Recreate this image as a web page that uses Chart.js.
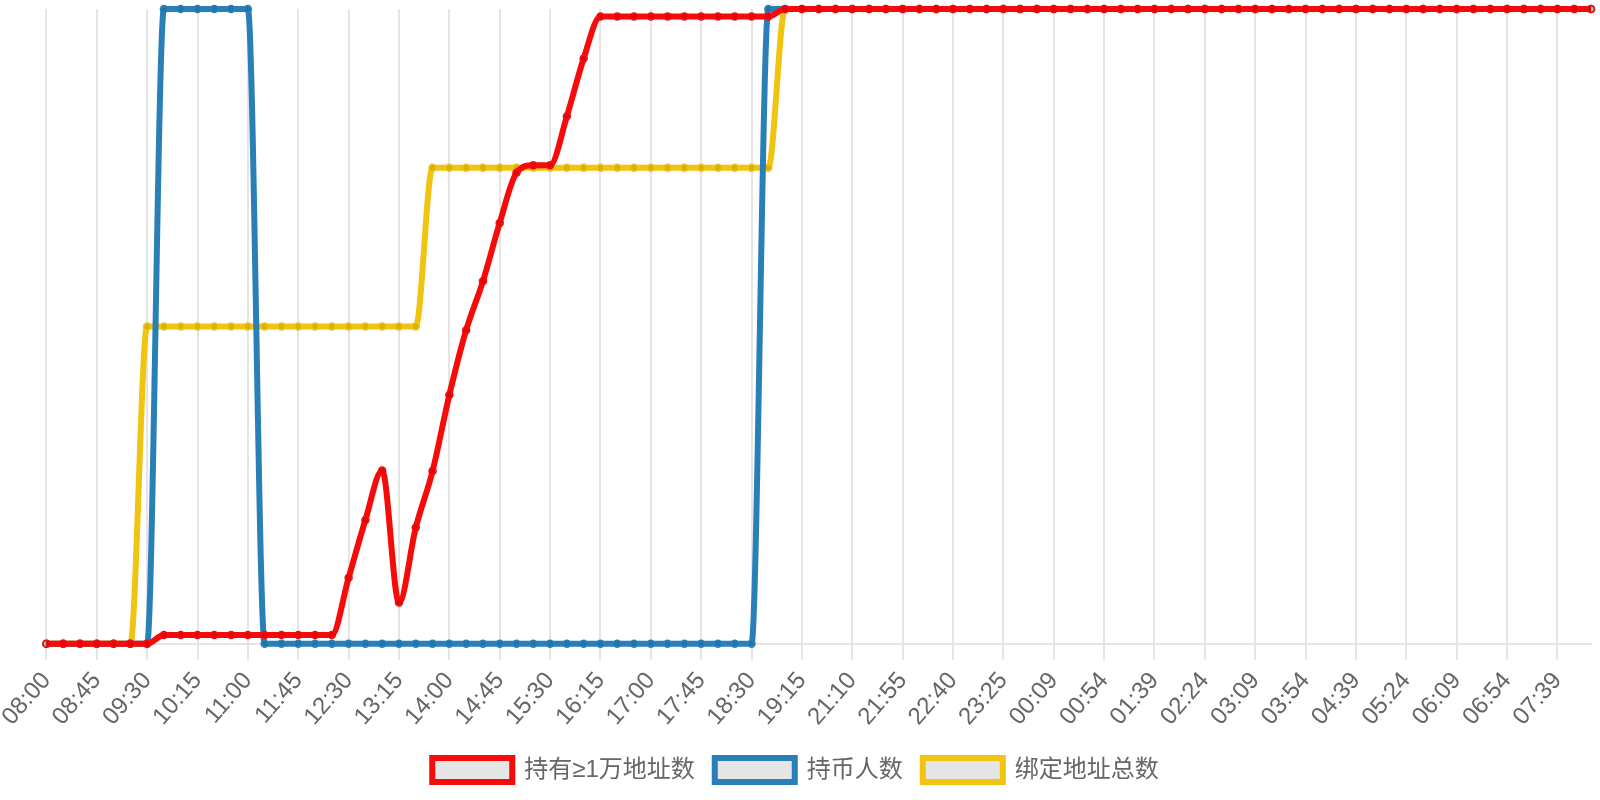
<!DOCTYPE html>
<html>
<head>
<meta charset="utf-8">
<title>地址统计</title>
<script src="https://cdn.jsdelivr.net/npm/chart.js@4.4.1/dist/chart.umd.min.js"></script>
<style>
  html, body { margin: 0; padding: 0; background: #fff; }
  #wrap { width: 1600px; height: 800px; }
</style>
</head>
<body>
<div id="wrap"><canvas id="grafico"></canvas></div>
<script>
// horas (cada 15 min, solo se muestra una de cada tres)
var horas = [
  "08:00","08:15","08:30","08:45","09:00","09:15","09:30","09:45","10:00","10:15",
  "10:30","10:45","11:00","11:15","11:30","11:45","12:00","12:15","12:30","12:45",
  "13:00","13:15","13:30","13:45","14:00","14:15","14:30","14:45","15:00","15:15",
  "15:30","15:45","16:00","16:15","16:30","16:45","17:00","17:15","17:30","17:45",
  "18:00","18:15","18:30","18:45","19:00","19:15","19:30","20:55","21:10","21:25",
  "21:40","21:55","22:10","22:25","22:40","22:55","23:10","23:25","23:40","23:54",
  "00:09","00:24","00:39","00:54","01:09","01:24","01:39","01:54","02:09","02:24",
  "02:39","02:54","03:09","03:24","03:39","03:54","04:09","04:24","04:39","04:54",
  "05:09","05:24","05:39","05:54","06:09","06:24","06:39","06:54","07:09","07:24",
  "07:39","07:54","08:09"
];

// valores en % del maximo de cada serie
var rojo = [
  0, 0, 0, 0, 0, 0, 0, 1.4, 1.4, 1.4,
  1.4, 1.4, 1.4, 1.4, 1.4, 1.4, 1.4, 1.4, 10.4, 19.5,
  27.3, 6.5, 18.3, 27.2, 39.2, 49.4, 57.1, 66.3, 74.2, 75.4,
  75.4, 83.1, 92.2, 98.8, 98.8, 98.8, 98.8, 98.8, 98.8, 98.8,
  98.8, 98.8, 98.8, 98.8, 100, 100, 100, 100, 100, 100,
  100, 100, 100, 100, 100, 100, 100, 100, 100, 100,
  100, 100, 100, 100, 100, 100, 100, 100, 100, 100,
  100, 100, 100, 100, 100, 100, 100, 100, 100, 100,
  100, 100, 100, 100, 100, 100, 100, 100, 100, 100,
  100, 100, 100
];

var azul = [
  0, 0, 0, 0, 0, 0, 0, 100, 100, 100,
  100, 100, 100, 0, 0, 0, 0, 0, 0, 0,
  0, 0, 0, 0, 0, 0, 0, 0, 0, 0,
  0, 0, 0, 0, 0, 0, 0, 0, 0, 0,
  0, 0, 0, 100, 100, 100, 100, 100, 100, 100,
  100, 100, 100, 100, 100, 100, 100, 100, 100, 100,
  100, 100, 100, 100, 100, 100, 100, 100, 100, 100,
  100, 100, 100, 100, 100, 100, 100, 100, 100, 100,
  100, 100, 100, 100, 100, 100, 100, 100, 100, 100,
  100, 100, 100
];

var amarillo = [
  0, 0, 0, 0, 0, 0, 50, 50, 50, 50,
  50, 50, 50, 50, 50, 50, 50, 50, 50, 50,
  50, 50, 50, 75, 75, 75, 75, 75, 75, 75,
  75, 75, 75, 75, 75, 75, 75, 75, 75, 75,
  75, 75, 75, 75, 100, 100, 100, 100, 100, 100,
  100, 100, 100, 100, 100, 100, 100, 100, 100, 100,
  100, 100, 100, 100, 100, 100, 100, 100, 100, 100,
  100, 100, 100, 100, 100, 100, 100, 100, 100, 100,
  100, 100, 100, 100, 100, 100, 100, 100, 100, 100,
  100, 100, 100
];

var nombres = ["持有≥1万地址数", "持币人数", "绑定地址总数"];
var colores = ["rgb(248, 10, 10)", "#2980b9", "#f1c40f"];

function serie(nombre, datos, color) {
  return {
    label: nombre,
    data: datos,
    borderColor: color,
    backgroundColor: "rgba(0,0,0,0.1)",
    borderWidth: 6,
    cubicInterpolationMode: "monotone",
    fill: false,
    clip: 6,
    pointRadius: 3.5,
    pointBorderWidth: 1.5,
    pointBorderColor: color,
    pointBackgroundColor: "rgba(0,0,0,0.1)"
  };
}

var ctx = document.getElementById("grafico").getContext("2d");
new Chart(ctx, {
  type: "line",
  data: {
    labels: horas,
    datasets: [
      serie(nombres[0], rojo, colores[0]),
      serie(nombres[1], azul, colores[1]),
      serie(nombres[2], amarillo, colores[2])
    ]
  },
  options: {
    responsive: true,
    maintainAspectRatio: false,
    animation: false,
    layout: { padding: { top: 9, right: 9, bottom: 8 } },
    plugins: {
      tooltip: { enabled: false },
      legend: {
        position: "bottom",
        labels: {
          boxWidth: 80,
          boxHeight: 24,
          padding: 20,
          color: "#666",
          font: { size: 24, family: "'Liberation Sans', 'Noto Sans CJK SC', sans-serif" }
        }
      }
    },
    scales: {
      x: {
        grid: { color: "rgba(0,0,0,0.1)", lineWidth: 2, tickLength: 16 },
        border: { color: "rgba(0,0,0,0.1)", width: 2 },
        ticks: {
          autoSkip: false,
          minRotation: 49,
          maxRotation: 49,
          padding: 7,
          color: "#666",
          font: { size: 24, family: "'Liberation Sans', sans-serif" },
          callback: function (val, index) {
            return index % 3 === 0 ? this.getLabelForValue(val) : null;
          }
        }
      },
      y: {
        display: false,
        min: 0,
        max: 100
      }
    }
  }
});
</script>
</body>
</html>
